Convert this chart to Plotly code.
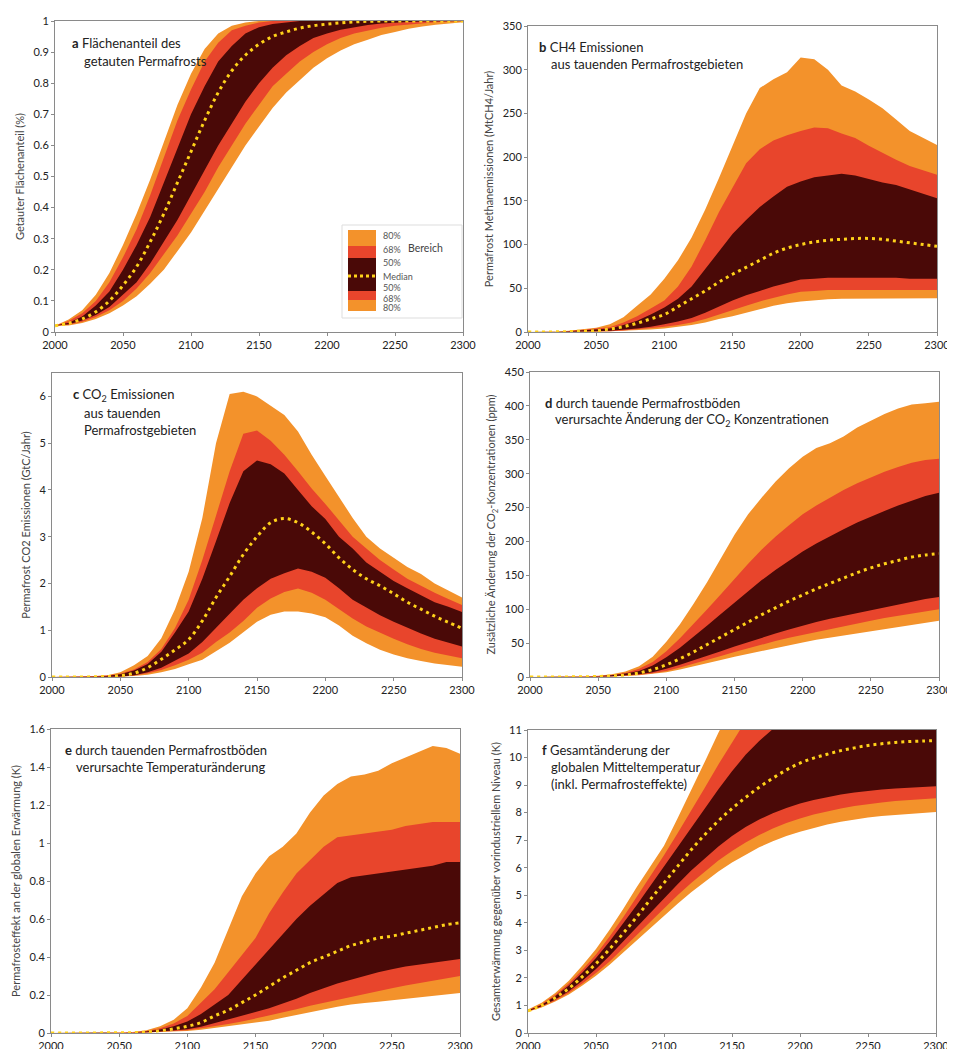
import plotly.graph_objects as go

# page body has an 8px margin: the figure is positioned to compensate
OFF = 8
W, H = 955 - OFF, 1049 - OFF
years = list(range(2000, 2301, 10))

# ---------------- Panel a: getauter Flächenanteil ----------------
a_hi80 = [0.02,0.04,0.07,0.12,0.19,0.28,0.38,0.49,0.61,0.73,0.83,0.91,0.96,0.985,0.995,1,1,1,1,1,1,1,1,1,1,1,1,1,1,1,1]
a_hi68 = [0.02,0.035,0.06,0.10,0.16,0.24,0.33,0.44,0.56,0.68,0.78,0.87,0.93,0.97,0.985,0.995,1,1,1,1,1,1,1,1,1,1,1,1,1,1,1]
a_hi50 = [0.02,0.03,0.05,0.085,0.13,0.20,0.28,0.37,0.48,0.59,0.70,0.79,0.87,0.92,0.96,0.98,0.99,0.995,1,1,1,1,1,1,1,1,1,1,1,1,1]
a_med  = [0.02,0.028,0.042,0.065,0.10,0.15,0.21,0.29,0.38,0.48,0.58,0.68,0.77,0.84,0.89,0.925,0.95,0.965,0.977,0.985,0.99,0.994,0.997,0.999,1,1,1,1,1,1,1]
a_lo50 = [0.02,0.025,0.037,0.055,0.08,0.12,0.16,0.22,0.29,0.36,0.44,0.52,0.60,0.67,0.74,0.80,0.85,0.89,0.92,0.945,0.96,0.972,0.98,0.987,0.992,0.995,0.997,0.998,0.999,1,1]
a_lo68 = [0.02,0.023,0.033,0.048,0.07,0.10,0.14,0.19,0.25,0.31,0.38,0.45,0.53,0.60,0.67,0.73,0.79,0.83,0.87,0.90,0.925,0.945,0.96,0.97,0.978,0.985,0.99,0.993,0.996,0.998,0.999]
a_lo80 = [0.02,0.021,0.029,0.042,0.06,0.085,0.115,0.155,0.20,0.26,0.32,0.39,0.46,0.53,0.60,0.66,0.72,0.77,0.81,0.85,0.88,0.905,0.925,0.94,0.955,0.965,0.975,0.982,0.988,0.993,0.996]

# ---------------- Panel b: CH4 Emissionen ----------------
b_hi80 = [0,0,0.5,1.5,3,5,9,17,30,43,61,82,108,140,176,214,250,279,289,297,314,312,300,282,275,266,256,243,230,222,214]
b_hi68 = [0,0,0.4,1.2,2.5,4,5.5,11,18,27,36,52,75,105,137,165,193,209,219,225,230,234,233,227,222,213,205,197,190,185,180]
b_hi50 = [0,0,0.3,1,2,3,4,8,13,20,28,38,52,72,92,112,128,143,155,166,172,177,179,181,179,175,171,168,163,158,153]
b_med  = [0,0,0.2,0.5,1,1.5,3.5,6,10,15,20,29,38,47,57,66,74,82,90,96,100,103,105,106,107,107,106,104,102,100,98]
b_lo50 = [0,0,0.1,0.3,0.6,1,1.5,2.5,4,6,9,12,16,22,29,36,42,47,52,56,60,61,62,62,62,62,62,62,61,61,61]
b_lo68 = [0,0,0.1,0.2,0.4,0.7,1,1.8,3,4.5,6,8,11,15,20,25,30,35,39,43,46,47,48,48,48,48,48,48,48,48,48]
b_lo80 = [0,0,0,0.1,0.3,0.5,0.8,1.3,2,3,4,6,8,11,15,18,22,26,30,33,35,36.5,37.5,38,38,38.5,38.5,38.5,38.5,38.5,38.5]

# ---------------- Panel c: CO2 Emissionen ----------------
c_hi80 = [0,0,0.01,0.02,0.03,0.1,0.25,0.45,0.83,1.45,2.25,3.4,5.0,6.05,6.1,6.0,5.8,5.6,5.25,4.75,4.3,3.85,3.4,3.0,2.75,2.55,2.35,2.2,2.0,1.85,1.7]
c_hi68 = [0,0,0.01,0.015,0.03,0.07,0.16,0.32,0.6,1.05,1.65,2.5,3.45,4.4,5.2,5.27,5.05,4.75,4.4,4.03,3.7,3.35,3.0,2.75,2.5,2.3,2.1,1.95,1.8,1.67,1.54]
c_hi50 = [0,0,0.005,0.01,0.02,0.06,0.14,0.28,0.54,0.95,1.4,2.1,2.9,3.72,4.4,4.63,4.55,4.35,4.0,3.65,3.38,3.0,2.75,2.45,2.25,2.05,1.9,1.75,1.6,1.5,1.39]
c_med  = [0,0,0,0.005,0.01,0.03,0.08,0.2,0.38,0.58,0.8,1.2,1.7,2.15,2.62,3.0,3.3,3.39,3.3,3.1,2.85,2.55,2.3,2.1,1.95,1.78,1.6,1.45,1.3,1.17,1.04]
c_lo50 = [0,0,0,0,0.005,0.01,0.04,0.1,0.2,0.35,0.5,0.75,1.05,1.35,1.65,1.9,2.1,2.22,2.32,2.25,2.12,1.9,1.65,1.48,1.32,1.18,1.05,0.93,0.82,0.73,0.65]
c_lo68 = [0,0,0,0,0.003,0.008,0.03,0.08,0.15,0.25,0.37,0.52,0.75,0.95,1.2,1.48,1.68,1.82,1.89,1.8,1.65,1.45,1.25,1.08,0.95,0.82,0.7,0.6,0.52,0.46,0.4]
c_lo80 = [0,0,0,0,0.002,0.005,0.02,0.05,0.1,0.17,0.27,0.37,0.55,0.73,0.95,1.18,1.33,1.4,1.4,1.36,1.28,1.1,0.88,0.72,0.58,0.48,0.4,0.34,0.29,0.25,0.22]

# ---------------- Panel d: CO2 Konzentration ----------------
d_hi80 = [0,0,0,0.5,1,2,4,8,16,30,52,78,108,140,175,210,240,265,288,308,325,338,345,355,368,378,388,396,402,404,406]
d_hi68 = [0,0,0,0.4,0.8,1.5,3,6,12,22,38,57,78,100,122,145,167,188,207,224,240,253,265,276,286,295,303,310,316,320,322]
d_hi50 = [0,0,0,0.3,0.6,1.2,2.5,5,9,17,29,43,59,76,93,110,127,143,158,172,185,197,208,218,228,237,245,253,260,267,272]
d_med  = [0,0,0,0.2,0.4,0.8,1.6,3,6,11,18,27,37,48,59,70,81,92,102,112,121,130,138,146,154,161,167,172,177,180,182]
d_lo50 = [0,0,0,0.1,0.3,0.6,1.1,2,4,7,12,18,24,31,38,45,52,58,64,70,76,81,86,91,95,99,103,107,111,115,118]
d_lo68 = [0,0,0,0.1,0.2,0.5,0.9,1.6,3.2,5.5,9,14,19,25,31,37,43,48,53,58,63,67,71,75,79,83,87,90,93,97,100]
d_lo80 = [0,0,0,0.1,0.2,0.4,0.7,1.3,2.5,4.3,7,11,15,20,25,30,35,39,43,47,51,55,59,62,65,68,71,74,77,80,83]

# ---------------- Panel e: Temperaturänderung durch Permafrost ----------------
e_hi80 = [0,0,0,0.001,0.002,0.003,0.005,0.015,0.035,0.07,0.13,0.24,0.37,0.54,0.72,0.84,0.93,0.98,1.05,1.16,1.25,1.31,1.35,1.36,1.38,1.42,1.45,1.48,1.51,1.5,1.47]
e_hi68 = [0,0,0,0.001,0.002,0.003,0.004,0.01,0.025,0.05,0.09,0.16,0.23,0.32,0.41,0.5,0.63,0.74,0.84,0.91,0.98,1.03,1.04,1.05,1.06,1.07,1.09,1.1,1.11,1.11,1.11]
e_hi50 = [0,0,0,0,0.001,0.002,0.003,0.008,0.018,0.035,0.06,0.1,0.15,0.2,0.28,0.36,0.44,0.52,0.6,0.67,0.73,0.79,0.82,0.83,0.84,0.85,0.86,0.87,0.88,0.9,0.9]
e_med  = [0,0,0,0,0.001,0.001,0.002,0.005,0.012,0.022,0.035,0.055,0.09,0.12,0.16,0.2,0.245,0.29,0.33,0.37,0.4,0.43,0.46,0.48,0.5,0.51,0.525,0.54,0.555,0.57,0.58]
e_lo50 = [0,0,0,0,0,0.001,0.002,0.004,0.008,0.013,0.02,0.033,0.05,0.07,0.09,0.11,0.13,0.155,0.18,0.21,0.235,0.26,0.28,0.3,0.32,0.335,0.35,0.36,0.37,0.38,0.39]
e_lo68 = [0,0,0,0,0,0.001,0.001,0.003,0.006,0.01,0.015,0.025,0.035,0.048,0.06,0.075,0.09,0.108,0.125,0.143,0.16,0.175,0.19,0.205,0.22,0.235,0.25,0.262,0.275,0.288,0.3]
e_lo80 = [0,0,0,0,0,0,0.001,0.002,0.004,0.007,0.01,0.017,0.025,0.035,0.045,0.055,0.065,0.08,0.095,0.11,0.125,0.138,0.15,0.158,0.165,0.172,0.18,0.188,0.195,0.202,0.21]

# ---------------- Panel f: Gesamterwärmung ----------------
f_hi80 = [0.85,1.1,1.45,1.9,2.45,3.05,3.75,4.5,5.3,6.05,6.8,7.8,8.8,9.85,10.9,11.9,12.8,13.6,14.3,15,15.7,16.3,16.9,17.4,17.9,18.3,18.7,19,19.3,19.5,19.7]
f_hi68 = [0.83,1.05,1.38,1.8,2.3,2.85,3.5,4.2,4.95,5.7,6.45,7.25,8.05,8.9,9.75,10.55,11.35,12.2,13,13.7,14.3,14.9,15.4,15.9,16.3,16.7,17,17.3,17.5,17.7,17.9]
f_hi50 = [0.82,1.02,1.33,1.72,2.2,2.72,3.32,3.97,4.65,5.35,6.05,6.75,7.45,8.15,8.85,9.5,10.1,10.6,11.05,11.5,11.9,12.3,12.6,12.9,13.2,13.45,13.7,13.9,14.05,14.2,14.3]
f_med  = [0.8,1.0,1.28,1.62,2.05,2.52,3.05,3.62,4.22,4.85,5.45,6.05,6.65,7.2,7.7,8.15,8.55,8.92,9.25,9.55,9.8,9.98,10.12,10.25,10.35,10.44,10.5,10.55,10.58,10.6,10.62]
f_lo50 = [0.79,0.97,1.22,1.52,1.9,2.32,2.8,3.3,3.82,4.35,4.88,5.4,5.9,6.35,6.77,7.15,7.48,7.75,7.98,8.17,8.33,8.46,8.57,8.66,8.73,8.79,8.84,8.88,8.91,8.94,8.96]
f_lo68 = [0.78,0.95,1.18,1.46,1.8,2.18,2.6,3.06,3.54,4.03,4.52,5.0,5.45,5.87,6.26,6.61,6.92,7.19,7.42,7.62,7.79,7.93,8.05,8.15,8.24,8.31,8.37,8.42,8.46,8.49,8.52]
f_lo80 = [0.77,0.93,1.14,1.4,1.72,2.08,2.48,2.9,3.35,3.8,4.25,4.69,5.11,5.5,5.86,6.19,6.48,6.74,6.96,7.15,7.31,7.45,7.57,7.67,7.75,7.82,7.88,7.92,7.96,7.99,8.02]

x_ticks = [2000, 2050, 2100, 2150, 2200, 2250, 2300]

y_titles = [
    "Getauter Flächenanteil (%)",
    "Permafrost Methanemissionen (MtCH4/Jahr)",
    "Permafrost CO2 Emissionen (GtC/Jahr)",
    "Zusätzliche Änderung der CO<sub>2</sub>-Konzentrationen (ppm)",
    "Permafrosteffekt an der globalen Erwärmung (K)",
    "Gesamterwärmung gegenüber vorindustriellem Niveau (K)",
]

ORANGE = "#F3922B"
RED = "#E8452C"
DARK = "#4A0907"
YELLOW = "#FFD21A"
FONT = "Lato"

panels = [
    dict(d=(a_lo80, a_lo68, a_lo50, a_med, a_hi50, a_hi68, a_hi80), px=(55, 463), py=(21, 332), yr=(0, 1), dt=0.1),
    dict(d=(b_lo80, b_lo68, b_lo50, b_med, b_hi50, b_hi68, b_hi80), px=(528, 937), py=(26, 332), yr=(0, 350), dt=50),
    dict(d=(c_lo80, c_lo68, c_lo50, c_med, c_hi50, c_hi68, c_hi80), px=(52, 462), py=(373, 677), yr=(0, 6.5), dt=1),
    dict(d=(d_lo80, d_lo68, d_lo50, d_med, d_hi50, d_hi68, d_hi80), px=(530, 939), py=(372, 677), yr=(0, 450), dt=50),
    dict(d=(e_lo80, e_lo68, e_lo50, e_med, e_hi50, e_hi68, e_hi80), px=(51, 460), py=(729, 1033), yr=(0, 1.6), dt=0.2),
    dict(d=(f_lo80, f_lo68, f_lo50, f_med, f_hi50, f_hi68, f_hi80), px=(528, 936), py=(730, 1033), yr=(0, 11), dt=1),
]

fig = go.Figure()
layout = {}

def fx(x):
    return (x - OFF) / W

def fy(y):
    return 1 - (y - OFF) / H

for i, p in enumerate(panels):
    n = "" if i == 0 else str(i + 1)
    xa, ya = "x" + n, "y" + n
    lo80, lo68, lo50, med, hi50, hi68, hi80 = p["d"]
    for lo, hi, col in ((lo80, hi80, ORANGE), (lo68, hi68, RED), (lo50, hi50, DARK)):
        fig.add_trace(go.Scatter(
            x=years + years[::-1], y=hi + lo[::-1], fill="toself", fillcolor=col,
            mode="lines", line=dict(width=0, color=col), xaxis=xa, yaxis=ya,
            hoverinfo="skip", showlegend=False))
    fig.add_trace(go.Scatter(
        x=years, y=med, mode="lines", line=dict(color=YELLOW, width=3, dash="3px,4px", shape="spline"),
        xaxis=xa, yaxis=ya, showlegend=False, hoverinfo="skip"))
    axcommon = dict(showline=True, linecolor="#8a8a8a", linewidth=1, mirror=True, automargin=False,
                    ticks="outside", ticklen=3, tickcolor="#8a8a8a", showgrid=False, zeroline=False,
                    ticklabeloverflow="allow",
                    tickfont=dict(family=FONT, size=11, color="#222"))
    layout["xaxis" + n] = dict(axcommon, domain=[fx(p["px"][0]), fx(p["px"][1])], range=[2000, 2300],
                               tickvals=x_ticks, anchor=ya)
    layout["yaxis" + n] = dict(axcommon, domain=[fy(p["py"][1]), fy(p["py"][0])], range=list(p["yr"]),
                               dtick=p["dt"], tick0=0, anchor=xa,
                               title=dict(text=y_titles[i], font=dict(family=FONT, size=11, color="#444"), standoff=6))

fig.update_layout(**layout)

# panel captions
captions = [
    [("<b>a</b> Flächenanteil des", 70, 43), ("getauten Permafrosts", 82, 61)],
    [("<b>b</b> CH4 Emissionen", 537, 47), ("aus tauenden Permafrostgebieten", 549, 64)],
    [("<b>c</b> CO<sub>2</sub> Emissionen", 71, 395), ("aus tauenden", 82, 413), ("Permafrostgebieten", 82, 430)],
    [("<b>d</b> durch tauende Permafrostböden", 543, 403), ("verursachte Änderung der CO<sub>2</sub> Konzentrationen", 553, 420)],
    [("<b>e</b> durch tauenden Permafrostböden", 63, 750), ("verursachte Temperaturänderung", 74, 767)],
    [("<b>f</b> Gesamtänderung der", 540, 750), ("globalen Mitteltemperatur", 549, 767), ("(inkl. Permafrosteffekte)", 549, 784)],
]
annotations = []
for lines in captions:
    for txt, x, y in lines:
        annotations.append(dict(text=txt, x=fx(x), y=fy(y), xref="paper", yref="paper",
                                xanchor="left", yanchor="middle", showarrow=False,
                                font=dict(family=FONT, size=13, color="#222")))

# legend box in panel a
shapes = [dict(type="rect", xref="paper", yref="paper", x0=fx(342), x1=fx(462), y0=fy(318), y1=fy(225),
               fillcolor="white", line=dict(color="#dddddd", width=1), layer="above")]
leg_bars = [(230, 246, ORANGE), (246, 258, RED), (258, 291, DARK), (291, 300, RED), (300, 311, ORANGE)]
for y0, y1, col in leg_bars:
    shapes.append(dict(type="rect", xref="paper", yref="paper", x0=fx(348), x1=fx(376), y0=fy(y1), y1=fy(y0),
                       fillcolor=col, line=dict(width=0), layer="above"))
shapes.append(dict(type="line", xref="paper", yref="paper", x0=fx(348), x1=fx(376), y0=fy(276), y1=fy(276),
                   line=dict(color=YELLOW, width=3, dash="3px,3px"), layer="above"))
leg_labels = [("80%", 235), ("68%", 249), ("50%", 262), ("Median", 276), ("50%", 287), ("68%", 298), ("80%", 308)]
for txt, y in leg_labels:
    annotations.append(dict(text=txt, x=fx(381), y=fy(y), xref="paper", yref="paper", xanchor="left",
                            yanchor="middle", showarrow=False, font=dict(family=FONT, size=9, color="#555")))
annotations.append(dict(text="Bereich", x=fx(406), y=fy(248), xref="paper", yref="paper", xanchor="left",
                        yanchor="middle", showarrow=False, font=dict(family=FONT, size=10.5, color="#444")))

fig.update_layout(
    width=W, height=H, margin=dict(l=0, r=0, t=0, b=0, autoexpand=False),
    paper_bgcolor="white", plot_bgcolor="white",
    annotations=annotations, shapes=shapes, showlegend=False,
    font=dict(family=FONT),
)

fig.write_html("out.html")
